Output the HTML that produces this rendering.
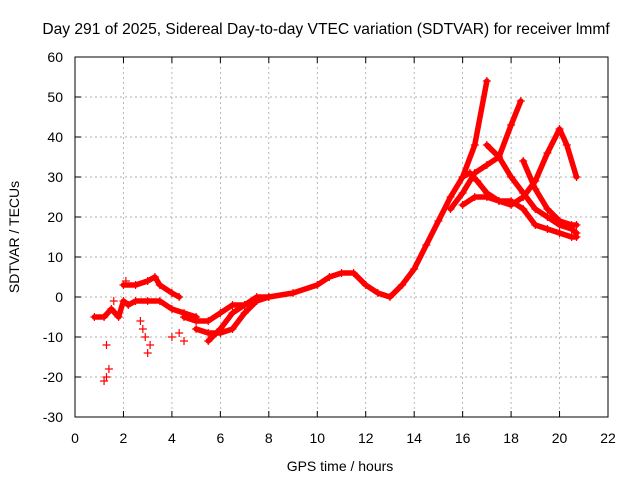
<!DOCTYPE html>
<html><head><meta charset="utf-8"><style>
body{margin:0;background:#fff}
svg text{font-family:"Liberation Sans",sans-serif;font-size:14px;fill:#000}
</style></head><body>
<svg id="chart" width="640" height="480">
<rect x="0" y="0" width="640" height="480" fill="#fff"/>
<text x="326" y="34" text-anchor="middle" style="font-size:15.6px">Day 291 of 2025, Sidereal Day-to-day VTEC variation (SDTVAR) for receiver lmmf</text>
<text x="340" y="471" text-anchor="middle">GPS time / hours</text>
<text transform="translate(19,237) rotate(-90)" text-anchor="middle">SDTVAR / TECUs</text>
<g id="grid"></g><g id="ticks"></g><g id="marks"></g>
<rect x="75" y="57" width="533" height="360" fill="none" stroke="#000"/>
</svg>
<script>
const xTicks=[0,2,4,6,8,10,12,14,16,18,20,22];
const yTicks=[-30,-20,-10,0,10,20,30,40,50,60];
const trackMain=[[4.5,-5],[5,-6],[5.5,-6],[6,-4],[6.5,-2],[7,-2],[7.5,0],[8,0],[9,1],[10,3],[10.5,5],[11,6],[11.5,6],[12,3],[12.5,1],[13,0],[13.5,3],[14,7],[14.5,13],[15,19],[15.5,25],[16,30],[16.5,38],[17,54]];
const trackB=[[15.5,22],[16,26],[16.5,31],[17,33],[17.5,35],[18,43],[18.4,49]];
const trackC=[[16,30],[16.3,31],[16.6,29],[17,26],[17.5,24],[18,24],[18.5,22],[19,18],[19.5,17],[20,16],[20.5,15],[20.7,15]];
const trackD=[[16,23],[16.5,25],[17,25],[17.5,24],[18,23],[18.5,25],[19,29],[19.5,36],[20,42],[20.3,38],[20.7,30]];
const trackE=[[17,38],[17.5,35],[18,30],[18.5,26],[19,22],[19.5,20],[20,18],[20.5,17],[20.7,16]];
const trackF=[[18.5,34],[19,27],[19.5,22],[20,19],[20.5,18],[20.7,18]];
const trackEarly=[[0.8,-5],[1.2,-5],[1.5,-3],[1.8,-5],[2,-1],[2.2,-2],[2.5,-1],[3,-1],[3.5,-1],[4,-3],[4.5,-4],[5,-5]];
const trackG=[[2,3],[2.5,3],[3,4],[3.3,5],[3.5,3],[4,1],[4.3,0]];
const trackLow=[[5,-8],[5.5,-9],[6,-9],[6.5,-8],[7,-4],[7.5,-1],[8,0]];
const trackLow2=[[5.5,-11],[6,-8],[6.5,-4],[7,-2]];
const scatter=[[1.2,-21],[1.3,-20],[1.4,-18],[1.3,-12],[2.7,-6],[2.8,-8],[2.9,-10],[3,-14],[3.1,-12],[4,-10],[4.3,-9],[4.5,-11],[1.6,-1],[2.1,4]];
const X=v=>75+(v-0)/22*533, Y=v=>417-(v+30)/90*360;
const NS="http://www.w3.org/2000/svg";
function mk(tag,attrs,parent){const e=document.createElementNS(NS,tag);for(const k in attrs)e.setAttribute(k,attrs[k]);parent.appendChild(e);return e;}
const grid=document.getElementById('grid'),ticks=document.getElementById('ticks'),marks=document.getElementById('marks');
xTicks.forEach(t=>{
 if(t>0&&t<22){const g=mk('line',{x1:X(t),x2:X(t),y1:57,y2:417,stroke:'#999','stroke-dasharray':'2,3','stroke-width':0.7},grid);
 
 }
 mk('line',{x1:X(t),x2:X(t),y1:417,y2:411,stroke:'#000'},ticks);
 mk('line',{x1:X(t),x2:X(t),y1:57,y2:63,stroke:'#000'},ticks);
 const tx=mk('text',{x:X(t),y:443,'text-anchor':'middle'},ticks);tx.textContent=t;
 
 
});
yTicks.forEach(t=>{
 if(t>-30&&t<60){const g=mk('line',{x1:75,x2:608,y1:Y(t),y2:Y(t),stroke:'#999','stroke-dasharray':'2,3','stroke-width':0.7},grid);
 
 }
 mk('line',{x1:75,x2:81,y1:Y(t),y2:Y(t),stroke:'#000'},ticks);
 mk('line',{x1:608,x2:602,y1:Y(t),y2:Y(t),stroke:'#000'},ticks);
 const tx=mk('text',{x:63,y:Y(t)+5,'text-anchor':'end'},ticks);tx.textContent=t;
 
 
});
const tracks=[trackMain,trackB,trackC,trackD,trackE,trackF,trackEarly,trackG,trackLow,trackLow2];
tracks.forEach(tr=>{
 const p=mk('polyline',{points:tr.map(d=>X(d[0])+','+Y(d[1])).join(' '),fill:'none',stroke:'#f00','stroke-width':5.5,'stroke-linejoin':'round','stroke-linecap':'round'},marks);
 
 
});
function plus(x,y){const p=mk('path',{d:`M${x-4},${y}h8M${x},${y-4}v8`,stroke:'#f00','stroke-width':1.2},marks);
 
 }
tracks.forEach(tr=>{tr.forEach(d=>plus(X(d[0]),Y(d[1])));});
scatter.forEach(d=>plus(X(d[0]),Y(d[1])));
</script>
</body></html>
